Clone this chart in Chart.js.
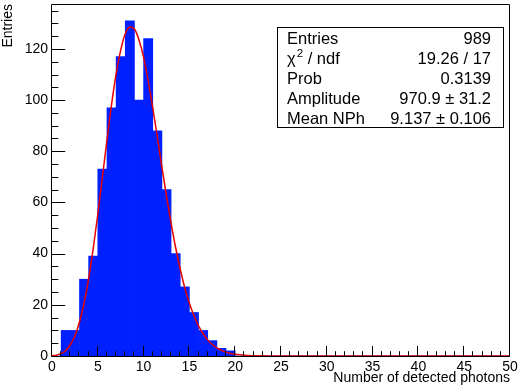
<!DOCTYPE html>
<html>
<head>
<meta charset="utf-8">
<script src="https://cdn.jsdelivr.net/npm/chart.js@4.4.1/dist/chart.umd.min.js"></script>
<style>
html,body{margin:0;padding:0;background:#ffffff;}
#wrap{width:520px;height:387px;position:relative;}
canvas{display:block;}
</style>
</head>
<body>
<div id="wrap"><canvas id="c" width="520" height="387"></canvas></div>
<script>
// ---- data ----
// histogram: 50 bins of width 1 from 0 to 50
const binLowEdges = [0,1,2,3,4,5,6,7,8,9,10,11,12,13,14,15,16,17,18,19,20,21,22,23,24,25,26,27,28,29,30,31,32,33,34,35,36,37,38,39,40,41,42,43,44,45,46,47,48,49];
const binCounts   = [0,10,10,30,39,73,97,117,131,100,124,88,65,40,27,17,10,6,3,2,0,0,0,0,0,0,0,0,0,0,0,0,0,0,0,0,0,0,0,0,0,0,0,0,0,0,0,0,0,0];
const binWidth = 1;

// fitted curve (red)
const fitX = [0,0.5,1,1.5,2,2.5,3,3.5,4,4.5,5,5.5,6,6.5,7,7.5,8,8.5,9,9.5,10,10.5,11,11.5,12,12.5,13,13.5,14,14.5,15,15.5,16,16.5,17,17.5,18,18.5,19,19.5,20,21,22,23,24,25,30,35,40,45,50];
const fitY = [0.1,0.3,1.0,2.1,4.4,7.8,13.3,20.6,30.3,42.0,55.4,69.8,84.4,98.2,110.2,119.5,125.9,128.6,127.8,123.5,116.7,107.5,97.0,85.5,73.8,62.5,51.9,42.3,33.9,26.6,20.6,15.7,11.8,8.7,6.3,4.5,3.2,2.2,1.5,1.0,0.7,0.3,0.13,0.05,0.02,0,0,0,0,0,0];

// axes
const xTickValues = [0,5,10,15,20,25,30,35,40,45,50];
const yTickValues = [0,20,40,60,80,100,120];
const xMin = 0, xMax = 50, yMin = 0, yMax = 137.55;
const xMinorStep = 1, yMinorStep = 5;
const xTitle = "Number of detected photons";
const yTitle = "Entries";

// statistics box
const statsLabels = ["Entries", "χ", "Prob", "Amplitude", "Mean NPh"];
const statsValues = ["989", "19.26 / 17", "0.3139", "970.9 ± 31.2", "9.137 ± 0.106"];

// ---- drawing ----
const FONT = "'Liberation Sans', Arial, Helvetica, sans-serif";

const histData = binLowEdges.map((lo, i) => ({x: lo + binWidth / 2, y: binCounts[i]}));
const fitData = fitX.map((xv, i) => ({x: xv, y: fitY[i]}));

const rootDecor = {
  id: 'rootDecor',
  afterDatasetsDraw(chart) {
    const {ctx, chartArea: a, scales} = chart;
    const xs = scales.x, ys = scales.y;
    ctx.save();
    ctx.strokeStyle = '#000';
    ctx.lineWidth = 1;
    const L = Math.round(a.left) - 0.5, R = Math.round(a.right) - 0.5;
    const T = Math.round(a.top) + 0.5, B = Math.round(a.bottom) + 0.5;
    ctx.beginPath();
    ctx.moveTo(L, T); ctx.lineTo(R, T); ctx.lineTo(R, B); ctx.lineTo(L, B); ctx.closePath();
    ctx.stroke();
    // y ticks (inside)
    const yMajLen = 0.03 * (a.right - a.left), yMinLen = yMajLen / 2;
    ctx.beginPath();
    for (let v = yMin; v <= yMax + 1e-9; v += yMinorStep) {
      const py = Math.round(ys.getPixelForValue(v)) + 0.5;
      const len = yTickValues.includes(v) ? yMajLen : yMinLen;
      ctx.moveTo(L, py); ctx.lineTo(L + len, py);
    }
    // x ticks (inside)
    const xMajLen = 0.03 * (a.bottom - a.top), xMinLen = xMajLen / 2;
    for (let v = xMin; v <= xMax + 1e-9; v += xMinorStep) {
      const px = Math.round(xs.getPixelForValue(v)) - 0.5;
      const len = xTickValues.includes(v) ? xMajLen : xMinLen;
      ctx.moveTo(px, B); ctx.lineTo(px, B - len);
    }
    ctx.stroke();
    ctx.restore();
  },
  afterDraw(chart) {
    const {ctx} = chart;
    ctx.save();
    const bx = 277.5, by = 27.5, bw = 226, bh = 100;
    ctx.fillStyle = '#fff';
    ctx.fillRect(bx, by, bw, bh);
    ctx.strokeStyle = '#000';
    ctx.lineWidth = 1;
    ctx.strokeRect(bx, by, bw, bh);
    ctx.fillStyle = '#000';
    ctx.textBaseline = 'alphabetic';
    const rowH = bh / statsLabels.length;
    const tl = 287, tr = 491;
    const F = '16.5px ' + FONT;
    statsLabels.forEach((lab, i) => {
      const base = by + 16 + i * rowH;
      ctx.font = F;
      ctx.textAlign = 'left';
      if (i === 1) {
        ctx.fillText(lab, tl, base);
        let w = ctx.measureText(lab).width;
        ctx.font = '11.5px ' + FONT;
        ctx.fillText('2', tl + w + 1, base - 6.5);
        const w2 = ctx.measureText('2').width;
        ctx.font = F;
        ctx.fillText(' / ndf', tl + w + 1 + w2, base);
      } else {
        ctx.fillText(lab, tl, base);
      }
      ctx.font = F;
      ctx.textAlign = 'right';
      ctx.fillText(statsValues[i], tr, base);
    });
    ctx.restore();
  }
};

new Chart(document.getElementById('c'), {
  type: 'bar',
  data: {
    datasets: [
      {
        type: 'line',
        label: 'fit',
        data: fitData,
        borderColor: '#e60000',
        borderWidth: 1.5,
        pointRadius: 0,
        fill: false,
        cubicInterpolationMode: 'monotone',
        order: 0
      },
      {
        type: 'bar',
        label: 'hist',
        data: histData,
        backgroundColor: '#0020ff',
        borderWidth: 0,
        barPercentage: 1.0,
        categoryPercentage: 1.0,
        order: 1
      }
    ]
  },
  options: {
    responsive: false,
    animation: false,
    devicePixelRatio: 1,
    layout: {padding: {left: 0, top: 4, right: 10, bottom: 0}},
    plugins: {legend: {display: false}, tooltip: {enabled: false}},
    scales: {
      x: {
        type: 'linear',
        min: xMin, max: xMax,
        offset: false,
        grid: {display: false, drawTicks: false},
        border: {display: false},
        ticks: {
          padding: 3,
          color: '#000',
          font: {family: FONT, size: 14},
          maxRotation: 0, autoSkip: false
        },
        afterBuildTicks: s => { s.ticks = xTickValues.map(v => ({value: v})); },
        afterFit: s => { s.height = 31; s.paddingLeft = 0; s.paddingRight = 0; },
        title: {
          display: true, text: xTitle, align: 'end', color: '#000',
          font: {family: FONT, size: 14}, padding: {top: 0, bottom: 0}
        }
      },
      y: {
        type: 'linear',
        min: yMin, max: yMax,
        grid: {display: false, drawTicks: false},
        border: {display: false},
        ticks: {
          padding: 4,
          color: '#000',
          font: {family: FONT, size: 14}
        },
        afterBuildTicks: s => { s.ticks = yTickValues.map(v => ({value: v})); },
        afterFit: s => { s.width = 52; s.paddingTop = 0; s.paddingBottom = 0; },
        title: {
          display: true, text: yTitle, align: 'end', color: '#000',
          font: {family: FONT, size: 14}, padding: {top: 0, bottom: 0}
        }
      }
    }
  },
  plugins: [rootDecor]
});
</script>
</body>
</html>
